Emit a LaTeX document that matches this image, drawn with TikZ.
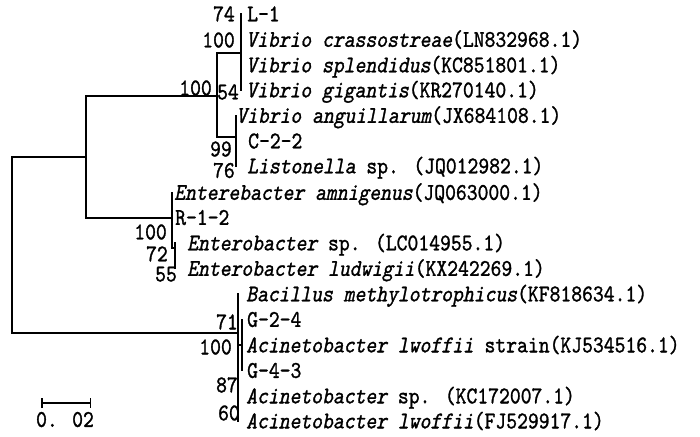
\documentclass[tikz,border=0pt]{standalone}
\usepackage{fontspec}
\newfontfamily\treefont{lmmono10-regular.otf}[FakeStretch=0.86, FakeBold=1.2, ItalicFont=lmmono10-regular.otf, ItalicFeatures={FakeSlant=0.2}]
\usetikzlibrary{arrows.meta}

\begin{document}
\begin{tikzpicture}[
    x=1pt, y=-1pt, % one unit per pixel, counted downwards
    every node/.style={font=\treefont\fontsize{24pt}{26pt}\selectfont,
        inner sep=0pt, text height=14.7pt, text depth=0pt},
    leaf/.style={anchor=west},
    boot/.style={anchor=east},
    branch/.style={line width=1.8pt, line cap=rect},
    twig/.style={line width=1.1pt, line cap=rect}
]
    \useasboundingbox (0,0) rectangle (700,436);

    % Place the leaves
    \node (l1)  [leaf] at (247,14)    {L-1};
    \node (l2)  [leaf] at (246,39.5)  {\textit{Vibrio crassostreae}(LN832968.1)};
    \node (l3)  [leaf] at (246,65)    {\textit{Vibrio splendidus}(KC851801.1)};
    \node (l4)  [leaf] at (246,90)    {\textit{Vibrio gigantis}(KR270140.1)};
    \node (l5)  [leaf] at (236,115.5) {\textit{Vibrio anguillarum}(JX684108.1)};
    \node (l6)  [leaf] at (248,141)   {C-2-2};
    \node (l7)  [leaf] at (247,166)   {\textit{Listonella} sp. (JQ012982.1)};
    \node (l8)  [leaf] at (174,192.5) {\textit{Enterebacter amnigenus}(JQ063000.1)};
    \node (l9)  [leaf] at (175,217.5) {R-1-2};
    \node (l10) [leaf] at (187,243)   {\textit{Enterobacter} sp. (LC014955.1)};
    \node (l11) [leaf] at (187,268.5) {\textit{Enterobacter ludwigii}(KX242269.1)};
    \node (l12) [leaf] at (246,294)   {\textit{Bacillus methylotrophicus}(KF818634.1)};
    \node (l13) [leaf] at (247,319.5) {G-2-4};
    \node (l14) [leaf] at (246,345)   {\textit{Acinetobacter lwoffii} strain(KJ534516.1)};
    \node (l15) [leaf] at (247,370.5) {G-4-3};
    \node (l16) [leaf] at (246,396)   {\textit{Acinetobacter} sp. (KC172007.1)};
    \node (l17) [leaf] at (246,421)   {\textit{Acinetobacter lwoffii}(FJ529917.1)};

    % inner nodes of the tree
    \coordinate (root) at (12,245);
    \coordinate (nVE)  at (86,157);
    \coordinate (nV)   at (217,96);
    \coordinate (nV1)  at (241,53);
    \coordinate (nL)   at (236,137);
    \coordinate (nE)   at (172,218);
    \coordinate (nE1)  at (175,248);
    \coordinate (nA)   at (238,333);
    \coordinate (nA1)  at (242,345);

    % bootstrap values
    \node (b74)  [boot] at (235,14)  {74};
    \node (b100) [boot] at (235,40)  {100};
    \node (bV)   [boot] at (212,88)  {100};
    \node (b54)  [boot] at (239,92)  {54};
    \node (b99)  [boot] at (232,149) {99};
    \node (b76)  [boot] at (235,170.5) {76};
    \node (bE)   [boot] at (167,232) {100};
    \node (b72)  [boot] at (168,254) {72};
    \node (b55)  [boot] at (177,274) {55};
    \node (b71)  [boot] at (238,322) {71};
    \node (bA)   [boot] at (232,347) {100};
    \node (b87)  [boot] at (238,385) {87};
    \node (b60)  [boot] at (240,413) {60};

    % Draw the vertical bars
    \draw [branch] (root |- nVE) -- (root |- nA);
    \draw [branch] (nVE |- nV) -- (nVE |- nE);
    \draw [branch] (nV |- nV1) -- (nV |- nL);
    \draw [twig] (nV1 |- l1) -- (nV1 |- l4);
    \draw [twig] (nL |- l5) -- (nL |- l7);
    \draw [twig] (nE |- l8) -- (nE |- nE1);
    \draw [twig] (nE1 |- l10) -- (nE1 |- l11);
    \draw [twig] (nA |- l12) -- (nA |- l17);
    \draw [twig] (nA1 |- l13) -- (nA1 |- l15);

    % Draw the horizontal branches
    \draw [branch] (nVE) -- (root |- nVE);
    \draw [branch] (nA) -- (root |- nA);
    \draw [branch] (nV) -- (nVE |- nV);
    \draw [branch] (nE) -- (nVE |- nE);
    \draw [branch] (nV1) -- (nV |- nV1);
    \draw [branch] (nL) -- (nV |- nL);
    \draw [twig] (nE1) -- (nE |- nE1);
    \draw [twig] (nA1) -- (nA |- nA1);

    % scale bar
    \coordinate (s1) at (41,403);
    \coordinate (s2) at (91,403);
    \draw [line width=1.5pt, {Bar[width=10pt]}-{Bar[width=10pt]}] (s1) -- (s2);
    \node (scale) at (65,419.5) {0. 02};
\end{tikzpicture}
\end{document}
